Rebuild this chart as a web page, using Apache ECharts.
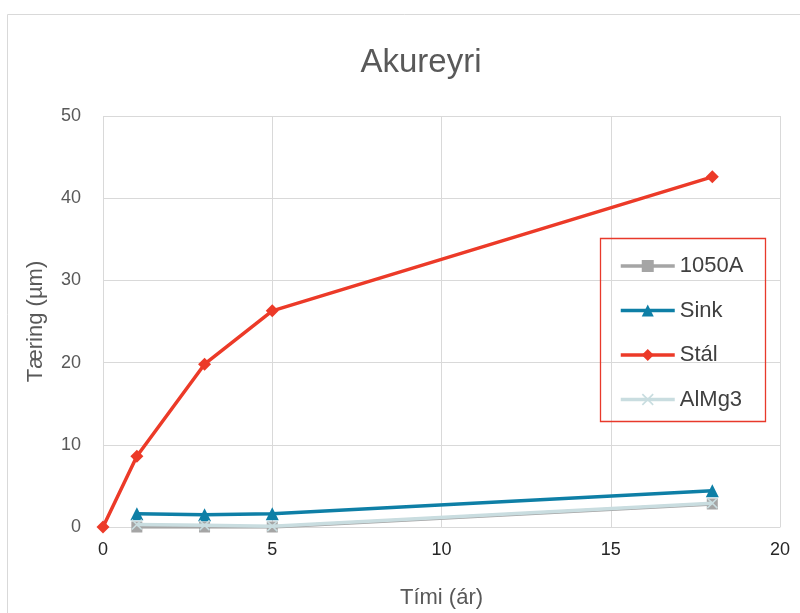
<!DOCTYPE html>
<html><head><meta charset="utf-8">
<script src="https://cdn.jsdelivr.net/npm/echarts@6/dist/echarts.min.js"></script>
<style>html,body{margin:0;padding:0;background:#fff}#c{width:800px;height:613px}</style>
</head><body><div id="c"></div>
<script>
const xYears = [0, 1, 3, 5, 18];
const s1050A = [null, 0.0, 0.0, 0.0, 2.8];
const sSink = [null, 1.6, 1.5, 1.6, 4.4];
const sStal = [0, 8.6, 19.8, 26.3, 42.6];
const sAlMg3 = [null, 0.3, 0.2, 0.1, 2.9];
const xTicks = [0, 5, 10, 15, 20];
const yTicks = [0, 10, 20, 30, 40, 50];

const FONT = '"Liberation Sans","Noto Sans",sans-serif';
function pairs(vals){ return xYears.map((x,i)=>[x, vals[i]]).filter(p=>p[1]!==null); }
const crossPath = 'path://M0,1 L1,0 L5,4 L9,0 L10,1 L6,5 L10,9 L9,10 L5,6 L1,10 L0,9 L4,5 Z';

const chart = echarts.init(document.getElementById('c'));
chart.setOption({
  animation: false,
  textStyle: {fontFamily: FONT},
  title: {text: 'Akureyri', left: 416, top: 41, textAlign: 'center',
    textStyle: {fontFamily: FONT, fontSize: 33, fontWeight: 'normal', color: '#595959'}},
  grid: {left: 103, right: 20, top: 116, bottom: 86, outerBoundsMode: 'none', containLabel: false},
  xAxis: {type: 'value', min: 0, max: 20, interval: 5,
    name: 'Tími (ár)', nameLocation: 'middle', nameGap: 60,
    nameTextStyle: {fontFamily: FONT, fontSize: 22, color: '#595959'},
    axisLine: {show: true, lineStyle: {color: '#d9d9d9', width: 1}},
    axisTick: {show: false},
    axisLabel: {fontFamily: FONT, fontSize: 18, color: '#262626', margin: 14,
      formatter: v => xTicks.includes(v) ? String(v) : ''},
    splitLine: {show: true, lineStyle: {color: '#d9d9d9', width: 1}}},
  yAxis: {type: 'value', min: 0, max: 50, interval: 10,
    name: 'Tæring (µm)', nameLocation: 'middle', nameGap: 56, nameRotate: 90,
    nameTextStyle: {fontFamily: FONT, fontSize: 22, color: '#595959'},
    axisLine: {show: false}, axisTick: {show: false},
    axisLabel: {fontFamily: FONT, fontSize: 18, color: '#595959', margin: 22,
      formatter: v => yTicks.includes(v) ? String(v) : ''},
    splitLine: {show: true, lineStyle: {color: '#d9d9d9', width: 1}}},
  legend: {orient: 'vertical', left: 619, top: 255, padding: 0,
    itemWidth: 54, itemHeight: 15, itemGap: 22.5,
    lineStyle: {width: 3.5},
    textStyle: {fontFamily: FONT, fontSize: 22, color: '#404040', lineHeight: 22, padding: [0,0,0,0]},
    data: ['1050A', 'Sink', 'Stál', 'AlMg3']},
  graphic: [
    {type: 'rect', shape: {x: 7.5, y: 14.5, width: 820, height: 620}, silent: true,
      style: {fill: 'none', stroke: '#d9d9d9', lineWidth: 1}},
    {type: 'rect', shape: {x: 600.5, y: 238.5, width: 165, height: 183}, silent: true, z: 100,
      style: {fill: 'none', stroke: '#e8392b', lineWidth: 1.3}}
  ],
  series: [
    {name: '1050A', type: 'line', data: pairs(s1050A), symbol: 'rect', symbolSize: 11,
      lineStyle: {color: '#a5a5a5', width: 3.5}, itemStyle: {color: '#a5a5a5'}, z: 2},
    {name: 'Sink', type: 'line', data: pairs(sSink), symbol: 'triangle', symbolSize: 13,
      lineStyle: {color: '#0e7fa6', width: 3.5}, itemStyle: {color: '#0e7fa6'}, z: 3},
    {name: 'Stál', type: 'line', data: pairs(sStal), symbol: 'diamond', symbolSize: 13,
      lineStyle: {color: '#ec3a28', width: 3.5}, itemStyle: {color: '#ec3a28'}, z: 4},
    {name: 'AlMg3', type: 'line', data: pairs(sAlMg3), symbol: crossPath, symbolSize: 11,
      lineStyle: {color: '#c9dde0', width: 3.5}, itemStyle: {color: '#c9dde0'}, z: 5}
  ]
});
</script></body></html>
